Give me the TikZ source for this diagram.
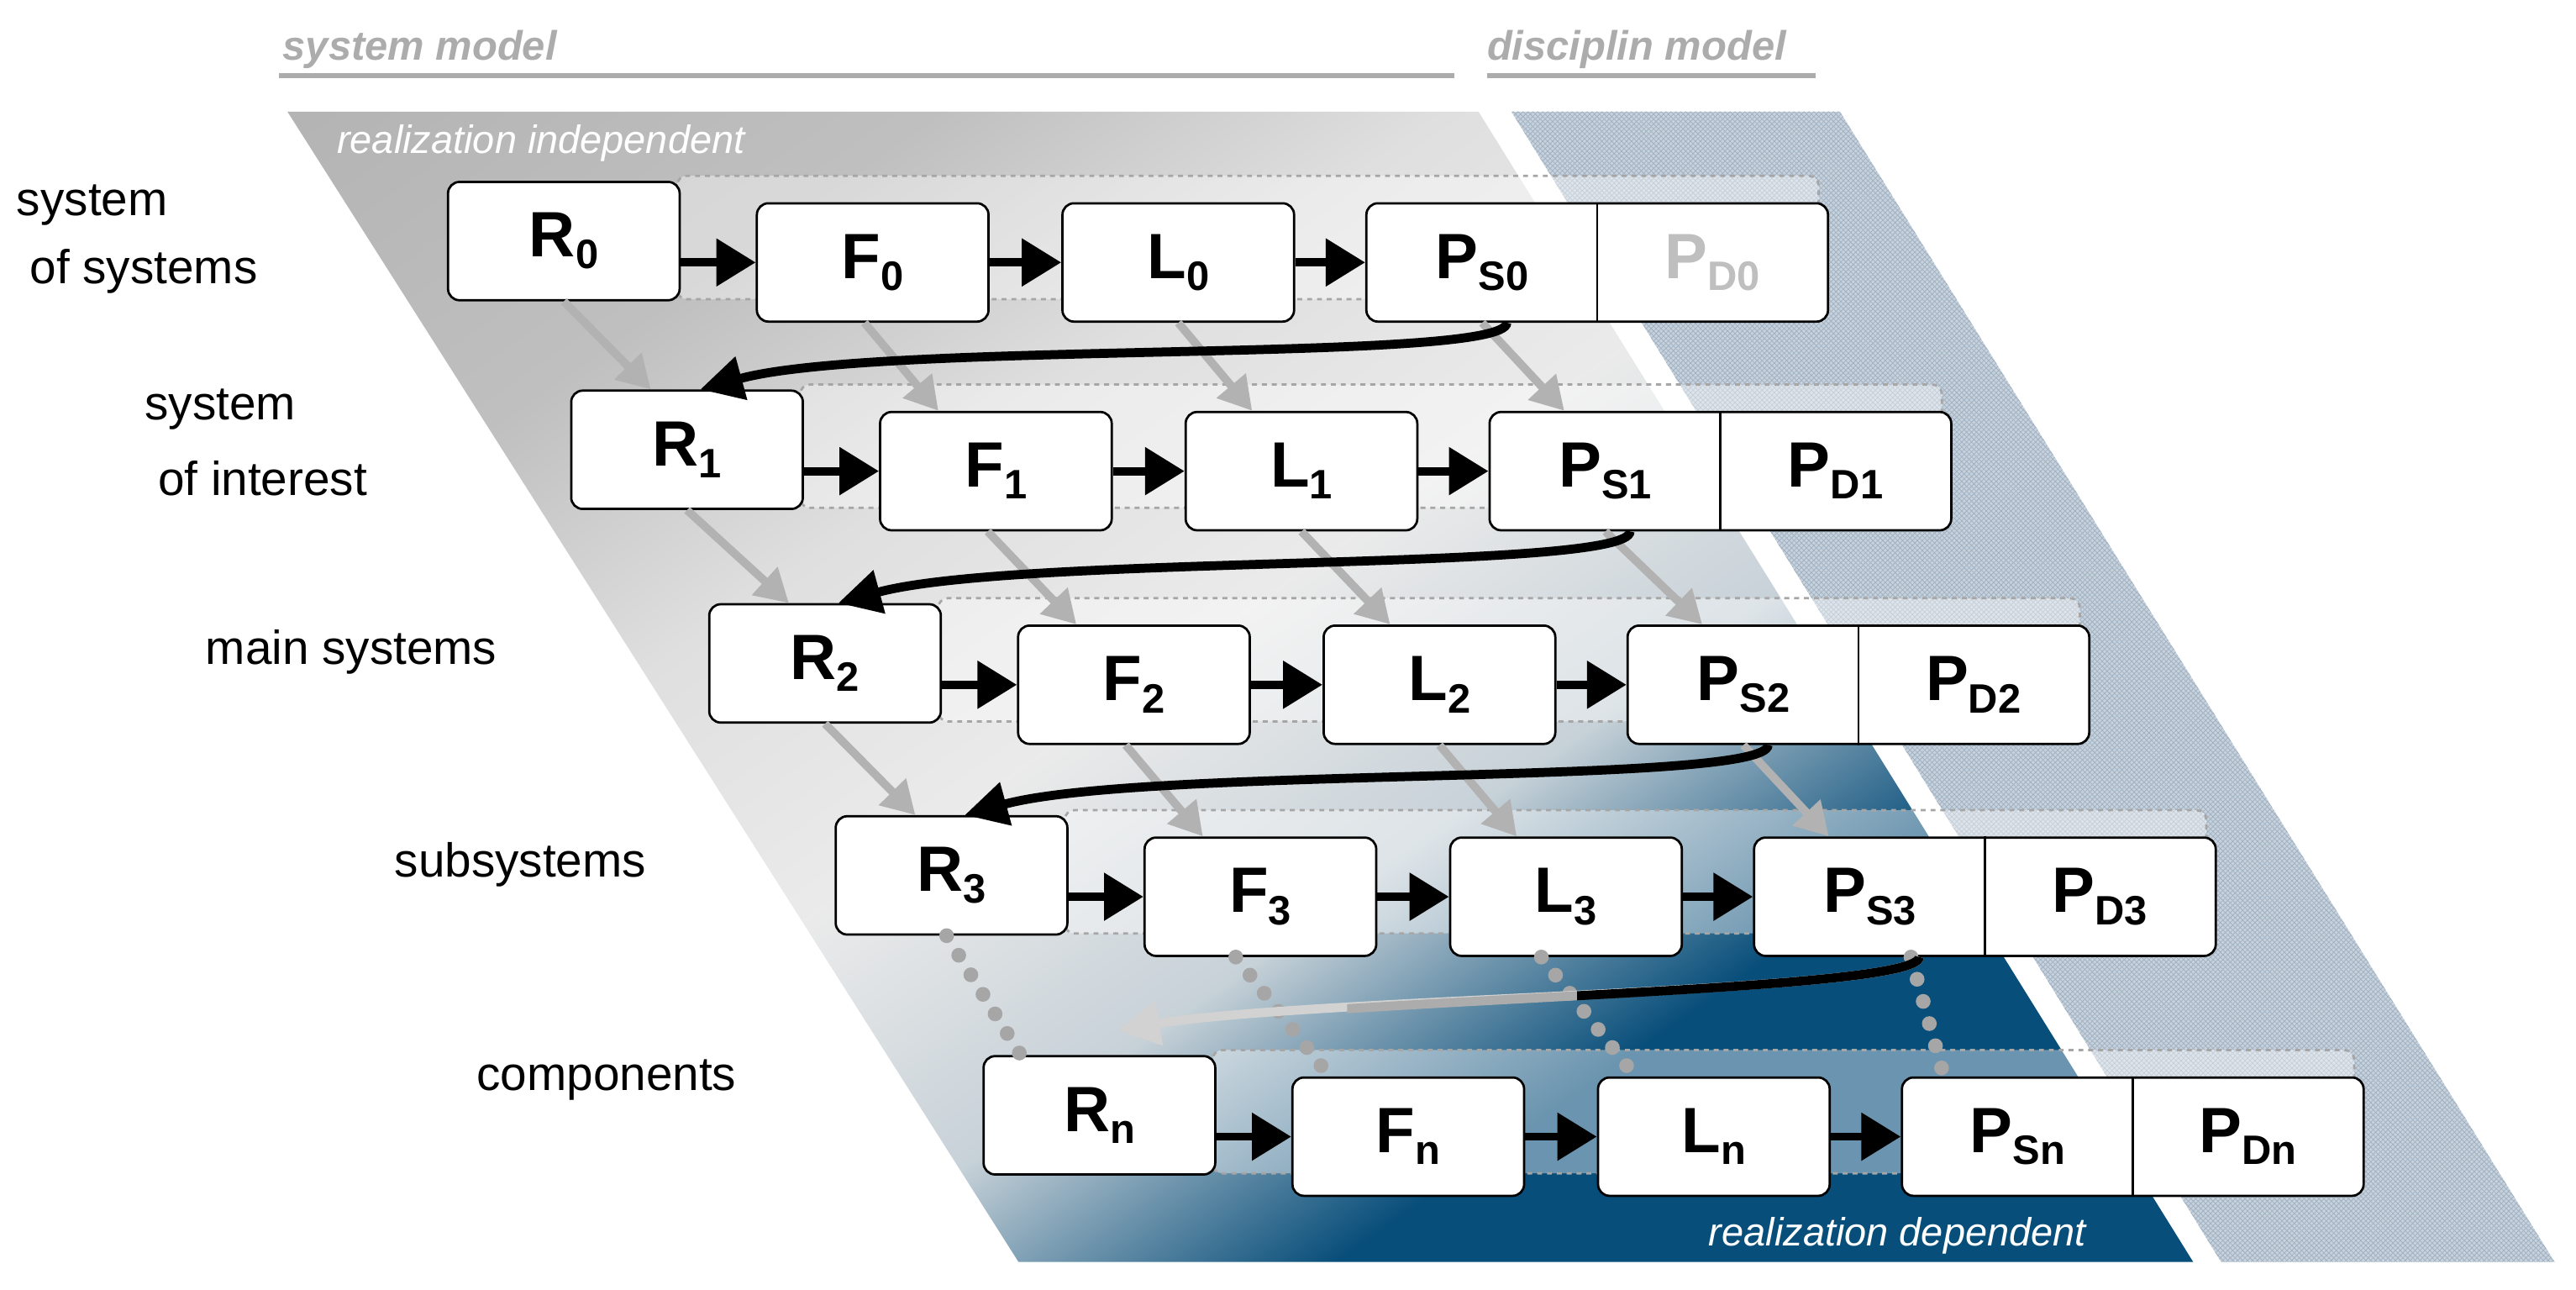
\documentclass[tikz,border=0pt]{standalone}
\usepackage{fontspec}
\setmainfont{Liberation Sans}
\usetikzlibrary{patterns,arrows.meta,calc}
\definecolor{dblue}{RGB}{8,78,122}
\definecolor{hatchbg}{RGB}{200,210,220}
\definecolor{hatchfg}{RGB}{120,145,170}
\pgfdeclareverticalshading{bgsh}{100bp}{color(0bp)=(dblue); color(32bp)=(dblue); color(42bp)=(dblue!50!gray!30); color(52bp)=(gray!16); color(62bp)=(gray!25); color(72bp)=(gray!50); color(100bp)=(gray!70)}
\newcommand{\bl}[2]{{\fontsize{39}{42}\selectfont\bfseries #1\raisebox{-0.35ex}{\fontsize{25}{28}\selectfont #2}}}
\newcommand{\fadecurve}{([xshift=-40pt]P3.south) .. controls +(0,22) and +(120,-20) .. (680,627)}
\begin{document}
\begin{tikzpicture}[x=1pt,y=-1pt,
  box/.style={draw=black,line width=1.4pt,fill=white,rounded corners=7pt,inner sep=0,minimum width=141pt,minimum height=72pt,anchor=north west},
  pbox/.style={box,minimum width=281pt},
  band/.style={draw=gray!70,dashed,line width=1.4pt,fill=white,fill opacity=0.4,rounded corners=6pt},
  blk/.style={line width=5pt,-{Triangle[length=24pt,width=28pt]}},
  garr/.style={line width=5pt,gray!60,-{Triangle[length=20pt,width=22pt]}},
  curv/.style={line width=5.5pt,-{Triangle[length=26pt,width=26pt]}},
  dots/.style={gray!70,line width=9pt,line cap=round,dash pattern=on 0pt off 14pt},
  lab/.style={font=\fontsize{29}{32}\selectfont,anchor=west,inner sep=0},
  hdr/.style={font=\fontsize{25}{28}\selectfont\bfseries\itshape,text=gray!65,anchor=west,inner sep=0}]
\useasboundingbox (0,0) rectangle (1568,785);
% backgrounds
\shade[shading=bgsh,shading angle=35]
  (175,68) -- (900,68) -- (1335,768) -- (620,768) -- cycle;
\fill[hatchbg] (920,68) -- (1120,68) -- (1555,768) -- (1352,768) -- cycle;
\fill[pattern=crosshatch,pattern color=hatchfg!70] (920,68) -- (1120,68) -- (1555,768) -- (1352,768) -- cycle;
% header
\node[hdr] (hsm) at (172,30) {system model};
\node[hdr] (hdm) at (905,30) {disciplin model};
\draw[gray!65,line width=3pt] (170,46) -- (885,46);
\draw[gray!65,line width=3pt] (905,46) -- (1105,46);
\node[font=\fontsize{24}{28}\selectfont\itshape,text=white,anchor=west,inner sep=0] (ri) at (205,87) {realization independent};
\node[font=\fontsize{24}{28}\selectfont\itshape,text=white,anchor=west,inner sep=0] (rd) at (1040,752) {realization dependent};
% rows
\foreach \s/\rx/\ry/\pdc in {0/272/110/gray!50,1/347/237/black,2/431/367/black,3/508/496/black,n/598/642/black}{
  \draw[band] (\rx+140,\ry-3) rectangle (\rx+835,\ry+72);
  \node[box] (R\s) at (\rx,\ry) {};
  \node (tR\s) at (R\s) {\bl{R}{\s}};
  \node[box] (F\s) at (\rx+188,\ry+13) {\bl{F}{\s}};
  \node[box] (L\s) at (\rx+374,\ry+13) {\bl{L}{\s}};
  \node[pbox] (P\s) at (\rx+559,\ry+13) {};
  \draw[line width=1.4pt] (P\s.north) -- (P\s.south);
  \node (PS\s) at ($(P\s.center)+(-70,0)$) {\bl{P}{S\s}};
  \node[text=\pdc] (PD\s) at ($(P\s.center)+(70,0)$) {\bl{P}{D\s}};
  \draw[blk] (R\s.east |- F\s.west) -- (F\s.west);
  \draw[blk] (F\s.east) -- (L\s.west);
  \draw[blk] (L\s.east) -- (P\s.west);
}
% row labels
\node[lab] (l0a) at (10,125) {system};
\node[lab] (l0b) at (18,165) {of systems};
\node[lab] (l1a) at (88,249) {system};
\node[lab] (l1b) at (96,291) {of interest};
\node[lab] (l2) at (125,397) {main systems};
\node[lab] (l3) at (240,526) {subsystems};
\node[lab] (l4) at (290,657) {components};
% vertical connectors
\foreach \a/\b in {0/1,1/2,2/3}{
  \draw[garr] (R\a.south) -- ([xshift=-22pt]R\b.north);
  \draw[garr] ([xshift=-5pt]F\a.south) -- ([xshift=-35pt]F\b.north);
  \draw[garr] (L\a.south) -- ([xshift=-30pt]L\b.north);
  \draw[garr] ([xshift=-70pt]P\a.south) -- ([xshift=-95pt]P\b.north);
  \draw[curv] ([xshift=-55pt]P\a.south) .. controls +(0,25) and +(110,-30) .. ([xshift=8pt]R\b.north);
}
% dotted continuations
\draw[dots] ([xshift=-3pt]R3.south) -- ([xshift=-48pt]Rn.north);
\draw[dots] ([xshift=-15pt]F3.south) -- ([xshift=-48pt]Fn.north);
\draw[dots] ([xshift=-15pt]L3.south) -- ([xshift=-48pt]Ln.north);
\draw[dots] ([xshift=-45pt]P3.south) -- ([xshift=-115pt]Pn.north);
\draw[line width=5.5pt,gray!35,-{Triangle[length=26pt,width=26pt]}] \fadecurve;
\begin{scope}
\clip (820,560) rectangle (960,650);
\draw[line width=5.5pt,gray!65] \fadecurve;
\end{scope}
\begin{scope}
\clip (960,560) rectangle (1300,650);
\draw[line width=5.5pt,black] \fadecurve;
\end{scope}
\end{tikzpicture}
\end{document}
